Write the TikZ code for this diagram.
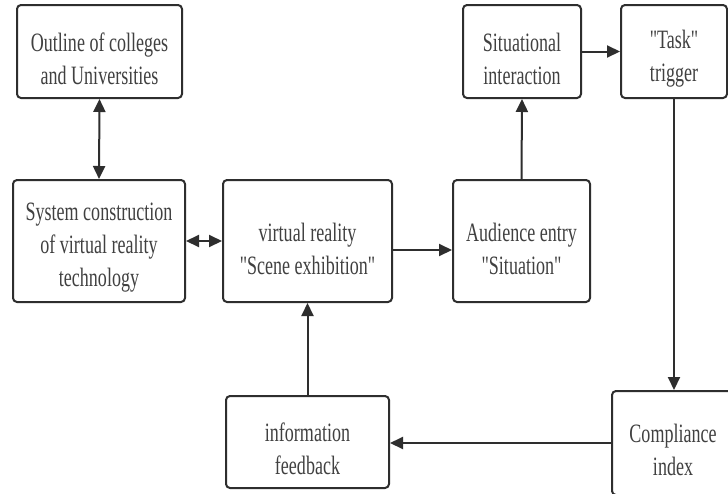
\documentclass[tikz,border=0pt]{standalone}
\usepackage{fontspec}
\newfontfamily\diagfont{Liberation Serif}[FakeStretch=0.68]
\usetikzlibrary{arrows.meta,calc}
\definecolor{edgec}{HTML}{2E2E2E}
\definecolor{txtc}{HTML}{404040}
\begin{document}
\begin{tikzpicture}[x=1pt,y=-1pt,
  box/.style={draw=edgec,line width=2pt,rounded corners=4pt,inner sep=0pt,fill=white},
  txt/.style={text=txtc,align=center,inner sep=0pt,font=\diagfont\fontsize{26.5}{33}\selectfont},
  conn/.style={draw=edgec,line width=2pt,-{Triangle[length=13pt,width=12pt]}},
  dconn/.style={draw=edgec,line width=2pt,{Triangle[length=13pt,width=12pt]}-{Triangle[length=13pt,width=12pt]}}]
\useasboundingbox (0,0) rectangle (728,493);
\clip (0,0) rectangle (728,493);
\fill[white] (0,0) rectangle (728,493);
% boxes
\node[box,minimum width=165pt,minimum height=93pt] (b1) at (99.5,51.5) {};
\node[box,minimum width=172pt,minimum height=122pt] (b2) at (99,241) {};
\node[box,minimum width=169pt,minimum height=122pt] (b3) at (307.5,241) {};
\node[box,minimum width=137pt,minimum height=122pt] (b4) at (521.5,241) {};
\node[box,minimum width=118pt,minimum height=93pt] (b5) at (522,51.5) {};
\node[box,minimum width=106pt,minimum height=93pt] (b6) at (674,51.5) {};
\node[box,minimum width=126pt,minimum height=104pt] (b7) at (675,443) {};
\node[box,minimum width=163pt,minimum height=92pt] (b8) at (307.5,442) {};
% texts
\node[txt] (t1) at (99.5,58.5) {Outline of colleges\\and Universities};
\node[txt] (t2) at (99,248) {System construction\\of virtual reality\\technology};
\node[txt] (t3) at (307.5,249) {virtual reality\\"Scene exhibition"};
\node[txt] (t4) at (521.5,249) {Audience entry\\"Situation"};
\node[txt] (t5) at (522,58.5) {Situational\\interaction};
\node[txt] (t6) at (674,58.5) {"Task"\\trigger};
\node[txt] (t7) at (673,450) {Compliance\\index};
\node[txt] (t8) at (307.5,449) {information\\feedback};
% connectors
\draw[dconn] (b1.south) -- (b2.north);
\draw[dconn] (b2.east) -- (b3.west);
\coordinate (a34) at ($(b3.east)+(0,9)$);
\draw[conn] (a34) -- (a34 -| b4.west);
\draw[conn] (b4.north) -- (b5.south);
\draw[conn] (b5.east) -- (b6.west);
\draw[conn] (b6.south) -- (b6.south |- b7.north);
\draw[conn] (b7.west) -- (b7.west -| b8.east);
\draw[conn] (b8.north) -- (b3.south);
\end{tikzpicture}
\end{document}
